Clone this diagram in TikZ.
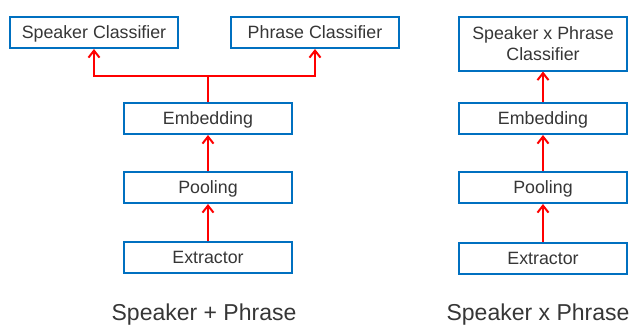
\documentclass[tikz,border=0pt]{standalone}
\usepackage{fontspec}
\setmainfont{Liberation Sans}
\usetikzlibrary{arrows.meta}
\definecolor{boxblue}{HTML}{0070C0}
\definecolor{txtgray}{HTML}{363636}
\definecolor{arrowred}{HTML}{FF0000}
\tikzset{
  block/.style={draw=boxblue, line width=2pt, fill=white, minimum width=168pt,
    minimum height=31pt, inner sep=0pt, text=txtgray, align=center,
    font=\fontsize{17.8}{21.5}\selectfont},
  oneline/.style={text height=12.8pt, text depth=0pt},
  flow/.style={draw=arrowred, line width=2.2pt,
    -{Straight Barb[length=7pt,width=11pt,line width=2pt]}},
  caption/.style={text=txtgray, font=\fontsize{23}{27}\selectfont, inner sep=0pt}
}
\begin{document}
\begin{tikzpicture}[x=1pt,y=-1pt]
  \useasboundingbox (0,0) rectangle (632,327);

  % multi-task network: two separate heads
  \node[block, oneline] (spk) at (94,32.5) {Speaker Classifier};
  \node[block, oneline] (phr) at (315,32.5) {Phrase Classifier};
  \node[block, oneline] (embL) at (208,118.5) {Embedding};
  \node[block, oneline] (poolL) at (208,187.5) {Pooling};
  \node[block, oneline] (extL) at (208,257.5) {Extractor};
  \coordinate (fork) at (208,76);
  \draw[flow] (extL) -- (poolL);
  \draw[flow] (poolL) -- (embL);
  \draw[draw=arrowred, line width=2.2pt] (embL.north) -- (fork);
  \draw[flow] (fork) -| (spk.south);
  \draw[flow] (fork) -| (phr.south);
  \node[caption] (capL) at (204,315) {Speaker + Phrase};

  % joint network: one combined head
  \node[block, minimum height=54pt] (joint) at (543,43.5) {Speaker x Phrase\\Classifier};
  \node[block, oneline] (embR) at (543,118.5) {Embedding};
  \node[block, oneline] (poolR) at (543,187.5) {Pooling};
  \node[block, oneline] (extR) at (543,258) {Extractor};
  \draw[flow] (extR) -- (poolR);
  \draw[flow] (poolR) -- (embR);
  \draw[flow] (embR) -- (joint);
  \node[caption] (capR) at (538,315) {Speaker x Phrase};
\end{tikzpicture}
\end{document}
